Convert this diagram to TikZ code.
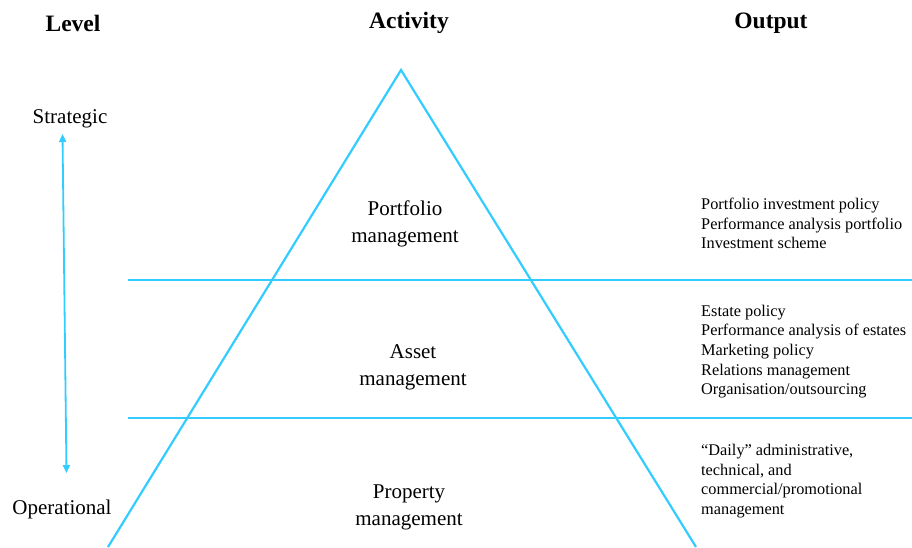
\documentclass[tikz,border=0pt]{standalone}
\usepackage{fontspec}
\setmainfont{Liberation Serif}
\usepackage{tikz}
\usetikzlibrary{arrows.meta,positioning}
\definecolor{levelblue}{RGB}{51,204,255}

\begin{document}
\begin{tikzpicture}[x=1pt,y=-1pt,
    header/.style={font=\fontsize{23.5}{28}\selectfont\bfseries},
    levellabel/.style={font=\fontsize{21}{27}\selectfont},
    activity/.style={font=\fontsize{21}{27}\selectfont,align=center},
    outputlist/.style={font=\fontsize{16.3}{19.6}\selectfont,align=left,anchor=west,inner sep=0pt}]
  \useasboundingbox (0,0) rectangle (912,547);
  % headers
  \node[header] (level) at (73,23) {Level};
  \node[header] (activity) at (409,23) {Activity};
  \node[header] (output) at (771,23) {Output};
  % pyramid and layers
  \draw[levelblue,line width=2.2pt,line join=miter] (108,547) -- (401,70) -- (696,547);
  \draw[levelblue,line width=2.2pt] (128,280) -- (912,280);
  \draw[levelblue,line width=2.2pt] (128,418) -- (912,418);
  % level axis
  \node[levellabel] (strategic) at (70,118.5) {Strategic};
  \node[levellabel] (operational) at (62,509.5) {Operational};
  \coordinate (axistop) at (62.5,134);
  \coordinate (axisbot) at (66.5,473);
  \draw[{Triangle[length=8pt,width=7pt]}-{Triangle[length=8pt,width=7pt]},levelblue,line width=1.8pt] (axistop) -- (axisbot);
  % activities
  \node[activity] (portfolio) at (405,224) {Portfolio\\management};
  \node[activity] (asset) at (413,367) {Asset\\management};
  \node[activity] (property) at (409,507) {Property\\management};
  % outputs
  \node[outputlist] (portfolioout) at (701,223.5) {Portfolio investment policy\\Performance analysis portfolio\\Investment scheme};
  \node[outputlist] (assetout) at (701,351.5) {Estate policy\\Performance analysis of estates\\Marketing policy\\Relations management\\Organisation/outsourcing};
  \node[outputlist] (propertyout) at (701,481) {“Daily” administrative,\\technical, and\\commercial/promotional\\management};
\end{tikzpicture}
\end{document}
